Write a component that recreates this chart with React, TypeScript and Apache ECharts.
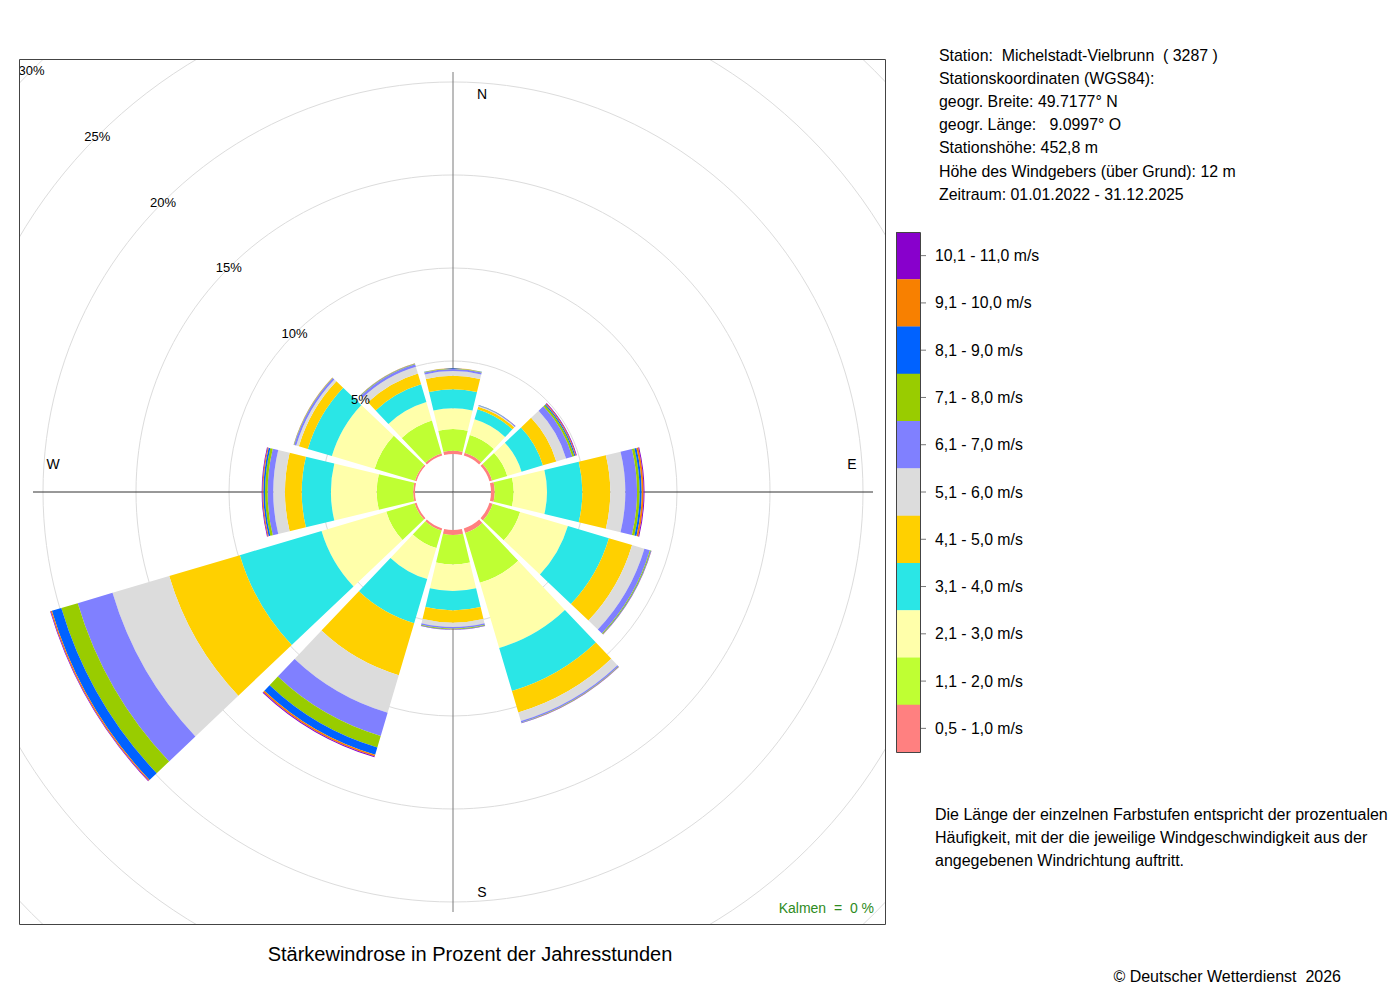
import React, { useEffect, useRef } from "react";
import * as echarts from "echarts";

const FONT = "'Liberation Sans', Arial, Helvetica, sans-serif";

// wind directions (30° sectors, clockwise from north)
const directions = ["N", "NNO", "ONO", "O", "OSO", "SSO", "S", "SSW", "WSW", "W", "WNW", "NNW"];

// speed classes (bottom -> top of stack)
const speedClasses = [
  "0,5 - 1,0 m/s",
  "1,1 - 2,0 m/s",
  "2,1 - 3,0 m/s",
  "3,1 - 4,0 m/s",
  "4,1 - 5,0 m/s",
  "5,1 - 6,0 m/s",
  "6,1 - 7,0 m/s",
  "7,1 - 8,0 m/s",
  "8,1 - 9,0 m/s",
  "9,1 - 10,0 m/s",
  "10,1 - 11,0 m/s",
];
const classColors = [
  "#FF8080", "#BFFF33", "#FFFFAA", "#2AE6E6", "#FFD000", "#DCDCDC",
  "#8080FF", "#99CC00", "#0062FF", "#F88000", "#8800CC",
];

// percentage of annual hours per direction for each speed class
const s05_10 = [0.18, 0.16, 0.15, 0.20, 0.18, 0.25, 0.27, 0.12, 0.11, 0.10, 0.09, 0.12];
const s11_20 = [1.16, 0.99, 0.85, 1.02, 1.54, 2.80, 1.59, 0.98, 1.59, 1.96, 2.26, 1.84];
const s21_30 = [1.12, 0.88, 0.80, 1.79, 2.68, 3.65, 1.42, 1.74, 3.63, 2.46, 2.40, 1.04];
const s31_40 = [1.02, 0.57, 1.20, 1.90, 2.30, 2.42, 1.04, 2.47, 4.58, 1.57, 1.35, 1.00];
const s41_50 = [0.73, 0.14, 0.75, 1.50, 1.30, 1.20, 0.66, 2.92, 3.96, 0.90, 0.50, 0.60];
const s51_60 = [0.25, 0.04, 0.55, 0.81, 0.69, 0.48, 0.23, 2.10, 3.18, 0.63, 0.15, 0.38];
const s61_70 = [0.11, 0.03, 0.35, 0.63, 0.31, 0.08, 0.09, 1.31, 1.95, 0.30, 0.11, 0.14];
const s71_80 = [0.02, 0.01, 0.11, 0.14, 0.05, 0.02, 0.04, 0.64, 0.92, 0.14, 0.02, 0.03];
const s81_90 = [0.01, 0.01, 0.06, 0.11, 0.02, 0.01, 0.01, 0.41, 0.53, 0.09, 0.01, 0.01];
const s91_100 = [0.01, 0.00, 0.04, 0.10, 0.01, 0.00, 0.00, 0.09, 0.06, 0.05, 0.01, 0.01];
const s101_110 = [0.00, 0.01, 0.04, 0.05, 0.01, 0.01, 0.01, 0.05, 0.04, 0.04, 0.00, 0.00];
const classValues = [s05_10, s11_20, s21_30, s31_40, s41_50, s51_60, s61_70, s71_80, s81_90, s91_100, s101_110];

// radial axis (percent)
const radiusMax = 30;
const radiusStep = 5;
const compassLabels = ["N", "O", "S", "W"];

const stationLines = [
  "Station:  Michelstadt-Vielbrunn  ( 3287 )",
  "Stationskoordinaten (WGS84):",
  "geogr. Breite: 49.7177° N",
  "geogr. Länge:   9.0997° O",
  "Stationshöhe: 452,8 m",
  "Höhe des Windgebers (über Grund): 12 m",
  "Zeitraum: 01.01.2022 - 31.12.2025",
];
const noteLines = [
  "Die Länge der einzelnen Farbstufen entspricht der prozentualen",
  "Häufigkeit, mit der die jeweilige Windgeschwindigkeit aus der",
  "angegebenen Windrichtung auftritt.",
];
const titleText = "Stärkewindrose in Prozent der Jahresstunden";
const calmText = "Kalmen  =  0 %";
const copyrightText = "© Deutscher Wetterdienst  2026";

function txt(text: string, x: number, y: number, size: number, align = "left", fill = "#000", z = 60) {
  return {
    type: "text",
    x,
    y,
    z,
    silent: true,
    style: {
      text,
      fontSize: size,
      fontFamily: FONT,
      fill,
      textAlign: align,
      align,
      textVerticalAlign: "middle",
      verticalAlign: "middle",
    },
  };
}

export default function App() {
  const ref = useRef<HTMLDivElement>(null);

  useEffect(() => {
    if (!ref.current) return;
    const chart = echarts.init(ref.current, undefined, { renderer: "svg" });

    const cx = 453;
    const cy = 492;

    const graphics: any[] = [];
    // white masks outside the plot box (clip grid circles)
    const box = { x: 19, y: 59, w: 867, h: 866 };
    graphics.push({ type: "rect", z: 50, silent: true, shape: { x: 0, y: 0, width: 1400, height: box.y }, style: { fill: "#fff" } });
    graphics.push({ type: "rect", z: 50, silent: true, shape: { x: 0, y: 0, width: box.x, height: 1000 }, style: { fill: "#fff" } });
    graphics.push({ type: "rect", z: 50, silent: true, shape: { x: box.x + box.w, y: 0, width: 1400, height: 1000 }, style: { fill: "#fff" } });
    graphics.push({ type: "rect", z: 50, silent: true, shape: { x: 0, y: box.y + box.h, width: 1400, height: 200 }, style: { fill: "#fff" } });
    graphics.push({
      type: "rect", z: 51, silent: true,
      shape: { x: box.x + 0.5, y: box.y + 0.5, width: box.w - 1, height: box.h - 1 },
      style: { fill: "none", stroke: "#444", lineWidth: 1 },
    });

    // compass letters
    graphics.push(txt("N", 482, 94, 14, "center", "#000", 52));
    graphics.push(txt("E", 852, 464, 14, "center", "#000", 52));
    graphics.push(txt("S", 482, 892, 14, "center", "#000", 52));
    graphics.push(txt("W", 53, 464, 14, "center", "#000", 52));

    graphics.push(txt(calmText, 874, 908, 14, "right", "#2E8B22", 52));
    graphics.push(txt(titleText, 470, 954, 20, "center"));
    graphics.push(txt(copyrightText, 1341, 976, 16, "right"));

    stationLines.forEach((l, i) => graphics.push(txt(l, 939, 55 + i * 23.2, 15.9)));
    noteLines.forEach((l, i) => graphics.push(txt(l, 935, 814 + i * 23, 16)));

    // legend colour bar
    const lgX = 896, lgY = 232, lgW = 24, lgH = 520;
    const cellH = lgH / speedClasses.length;
    for (let k = 0; k < speedClasses.length; k++) {
      const idx = speedClasses.length - 1 - k;
      const y0 = lgY + k * cellH;
      graphics.push({
        type: "rect", z: 60, silent: true,
        shape: { x: lgX, y: y0, width: lgW, height: cellH + 0.3 },
        style: { fill: classColors[idx] },
      });
      graphics.push({
        type: "line", z: 61, silent: true,
        shape: { x1: lgX + lgW, y1: y0 + cellH / 2, x2: lgX + lgW + 6, y2: y0 + cellH / 2 },
        style: { stroke: "#777", lineWidth: 1 },
      });
      graphics.push(txt(speedClasses[idx], 935, y0 + cellH / 2, 15.8));
    }
    graphics.push({
      type: "rect", z: 62, silent: true,
      shape: { x: lgX + 0.5, y: lgY + 0.5, width: lgW, height: lgH },
      style: { fill: "none", stroke: "#444", lineWidth: 1 },
    });

    const nTicks = radiusMax / radiusStep;
    const circleColors = ["rgba(0,0,0,0)"];
    for (let i = 0; i < nTicks; i++) circleColors.push("#DCDCDC");

    const option: any = {
      animation: false,
      textStyle: { fontFamily: FONT },
      polar: [
        { center: [cx, cy], radius: [38, 596] },
        { center: [cx, cy], radius: [38, 596] },
        { center: [cx, cy], radius: [0, 420] },
      ],
      angleAxis: [
        {
          polarIndex: 0, type: "category", data: directions, startAngle: 105, boundaryGap: true,
          axisLine: { show: false }, axisTick: { show: false }, axisLabel: { show: false }, splitLine: { show: false },
        },
        { polarIndex: 1, type: "value", min: 0, max: 360, startAngle: 135, show: false },
        {
          polarIndex: 2, type: "category", data: compassLabels, startAngle: 90, boundaryGap: true, z: 1,
          axisLine: { show: false }, axisTick: { show: false, interval: 0 }, axisLabel: { show: false, interval: 0 },
          splitLine: { show: true, interval: 0, lineStyle: { color: ["#7a7a7a", "#333", "#7a7a7a", "#333"], width: 1 } },
        },
      ],
      radiusAxis: [
        {
          polarIndex: 0, type: "value", min: 0, max: radiusMax, interval: radiusStep, z: 0,
          axisLine: { show: false }, axisTick: { show: false }, axisLabel: { show: false },
          splitLine: { show: true, lineStyle: { color: circleColors, width: 1 } },
        },
        {
          polarIndex: 1, type: "value", min: 0, max: radiusMax, interval: radiusStep, z: 10,
          axisLine: { show: false }, axisTick: { show: false }, splitLine: { show: false },
          axisLabel: {
            show: true, margin: 0, align: "center", verticalAlign: "middle", fontSize: 13, color: "#000",
            fontFamily: FONT, formatter: (v: number) => (v === 0 ? "" : v + "%"),
          },
        },
        { polarIndex: 2, type: "value", min: 0, max: 1, show: false },
      ],
      series: speedClasses.map((name, i) => ({
        type: "bar",
        name,
        coordinateSystem: "polar",
        polarIndex: 0,
        stack: "total",
        data: classValues[i],
        barCategoryGap: "10%",
        itemStyle: { color: classColors[i] },
        z: 2,
        silent: true,
      })),
      graphic: graphics,
    };

    chart.setOption(option);
    return () => chart.dispose();
  }, []);

  return (
    <div
      ref={ref}
      style={{ position: "absolute", left: 0, top: 0, width: 1400, height: 1000, background: "#fff" }}
    />
  );
}
